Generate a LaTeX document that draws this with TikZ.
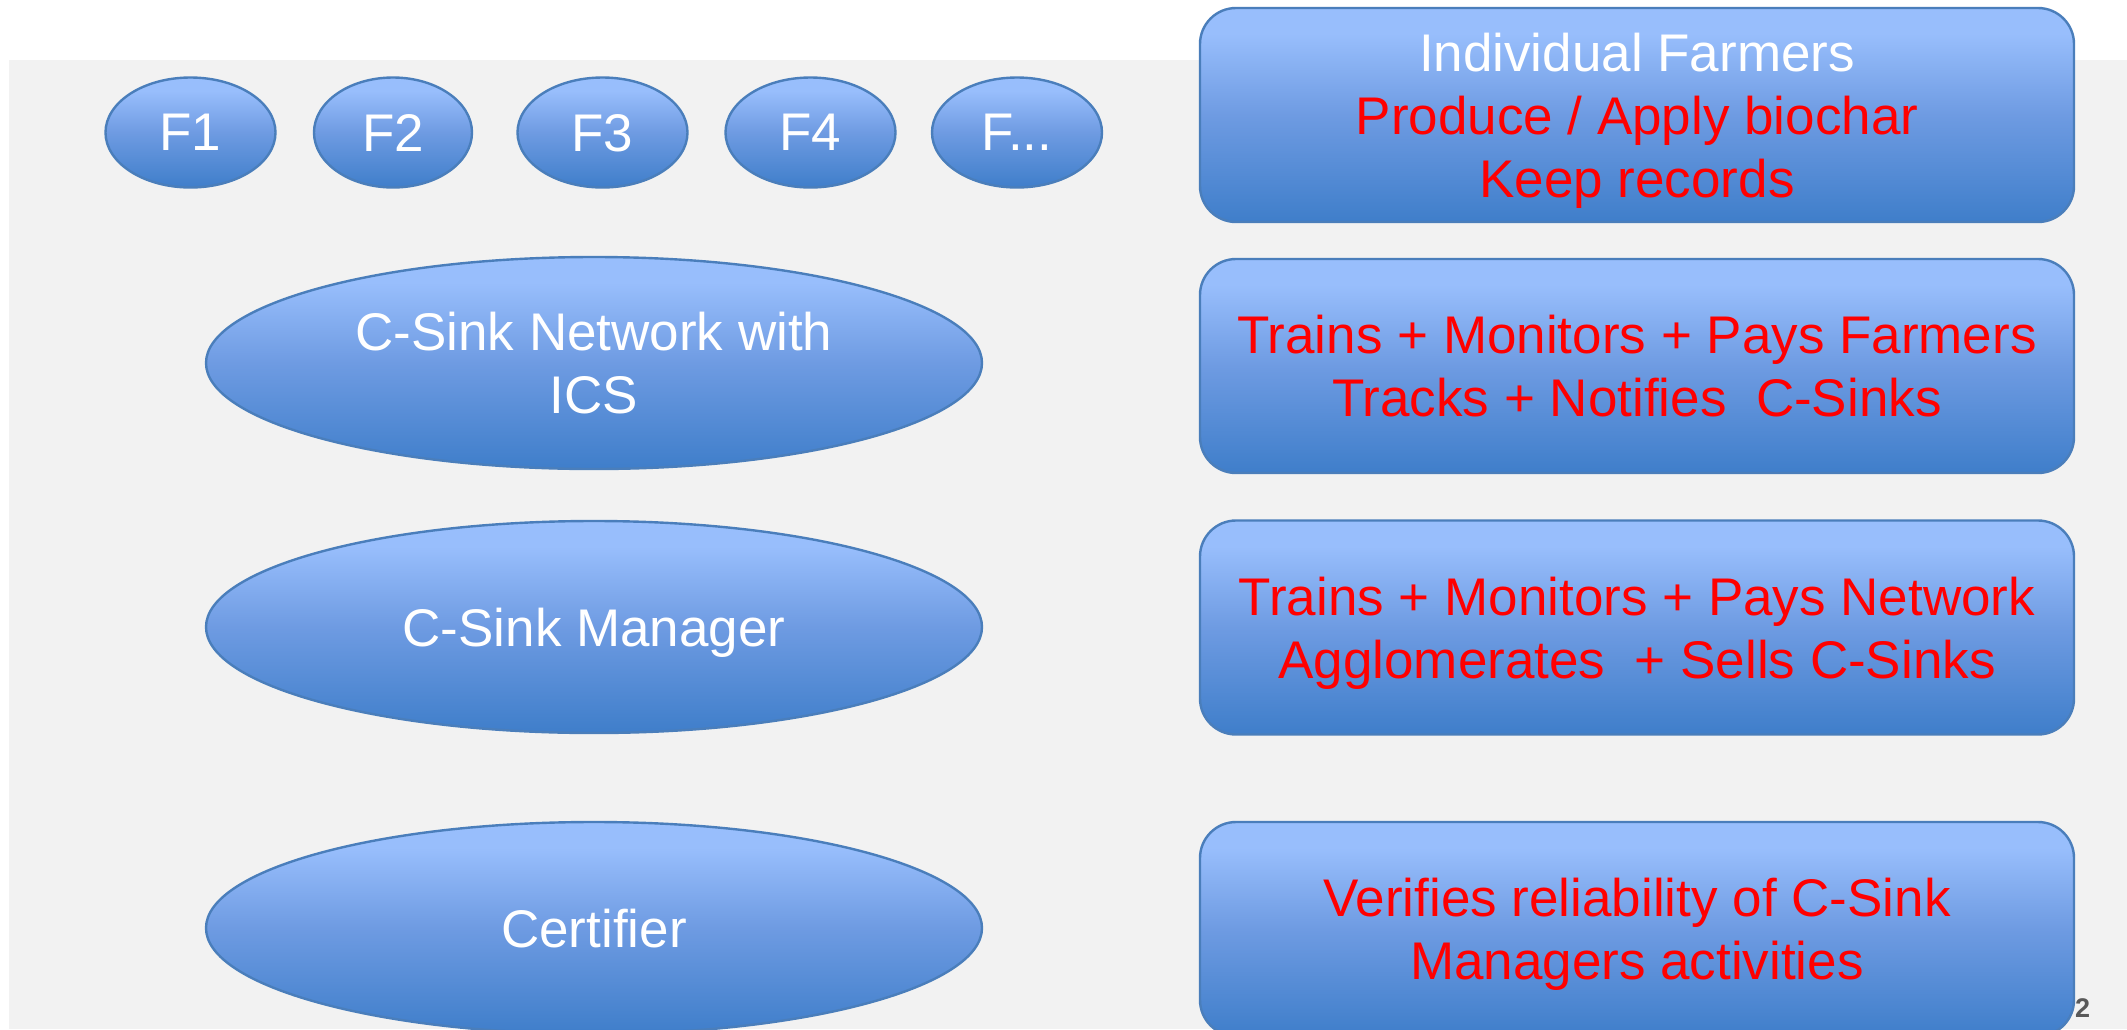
\documentclass[tikz,border=0pt]{standalone}
\usepackage{fontspec}
\setmainfont{Liberation Sans}
\usetikzlibrary{shapes.geometric}
\definecolor{ptop}{RGB}{152,190,252}
\definecolor{pmid}{RGB}{110,155,226}
\definecolor{pbot}{RGB}{63,126,202}
\definecolor{pline}{RGB}{74,126,187}
\definecolor{bggray}{RGB}{242,242,242}
\definecolor{pnum}{RGB}{89,89,89}
\pgfdeclareverticalshading{pptblue}{100bp}{color(0bp)=(pbot); color(25bp)=(pbot); color(50bp)=(pmid); color(69bp)=(ptop); color(100bp)=(ptop)}
\tikzset{
  blue/.style={shading=pptblue, draw=pline, line width=1.2pt, text=white, inner sep=0pt, align=center, text depth=0pt, font=\fontsize{26.5}{31.5}\selectfont},
  small/.style={blue, ellipse, minimum width=85pt, minimum height=55pt},
  big/.style={blue, ellipse, minimum width=388pt, minimum height=106pt},
  box/.style={blue, rectangle, rounded corners=18pt, minimum width=437pt, minimum height=107pt},
  redt/.style={text=red}
}
\begin{document}
\begin{tikzpicture}[x=0.5pt,y=-0.5pt]
\useasboundingbox (0,0) rectangle (2127,1029);
\clip (0,0) rectangle (2127,1029);
\fill[white] (0,0) rectangle (2127,1029);
\fill[bggray] (9,60) rectangle (2127,1029);
\node[small] (f1) at (190.5,132.5) {F1};
\node[small, minimum width=79pt] (f2) at (393,132.5) {F2};
\node[small] (f3) at (602.5,132.5) {F3};
\node[small] (f4) at (810.5,132.5) {F4};
\node[small] (f5) at (1017,132.5) {F...};
\node[big] (net) at (594,363) {C-Sink Network with\\ICS};
\node[big] (mgr) at (594,627) {C-Sink Manager};
\node[big] (cert) at (594,928) {Certifier};
\node[box] (b1) at (1637,115) {Individual Farmers\\\textcolor{red}{Produce / Apply biochar}\\\textcolor{red}{Keep records}};
\node[box, redt] (b2) at (1637,366) {Trains + Monitors + Pays Farmers\\Tracks + Notifies\ \ C-Sinks};
\node[box, redt] (b3) at (1637,627.5) {Trains + Monitors + Pays Network\\Agglomerates\ \ + Sells C-Sinks};
\node[box, redt] (b4) at (1637,929) {Verifies reliability of C-Sink\\Managers activities};
\node[text=pnum, font=\fontsize{13.5}{15}\selectfont\bfseries, inner sep=0pt] (pg) at (2082.5,1008) {2};
\end{tikzpicture}
\end{document}
